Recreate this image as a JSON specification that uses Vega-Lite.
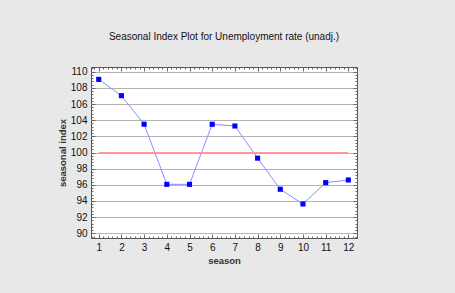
{
  "$schema": "https://vega.github.io/schema/vega-lite/v6.json",
  "width": 266,
  "height": 171,
  "autosize": {"type": "none"},
  "padding": {"left": 91, "top": 67, "right": 98, "bottom": 55},
  "background": "#e8e8e8",
  "title": {
    "text": "Seasonal Index Plot for Unemployment rate (unadj.)",
    "font": "Liberation Sans",
    "fontSize": 10,
    "fontWeight": "normal",
    "color": "#111111",
    "offset": 25,
    "anchor": "middle"
  },
  "config": {
    "view": {"fill": "white", "stroke": "#555555", "strokeWidth": 1},
    "axis": {
      "labelFont": "Liberation Sans",
      "labelFontSize": 10,
      "labelColor": "#111111",
      "titleFont": "Liberation Sans",
      "titleFontSize": 9.5,
      "titleFontWeight": "bold",
      "titleColor": "#333333",
      "domain": false,
      "grid": false,
      "tickColor": "#666666"
    }
  },
  "datasets": {
    "idx": [
      {"season": 1, "index": 109.05},
      {"season": 2, "index": 107.03},
      {"season": 3, "index": 103.5},
      {"season": 4, "index": 96.06},
      {"season": 5, "index": 96.06},
      {"season": 6, "index": 103.49},
      {"season": 7, "index": 103.28},
      {"season": 8, "index": 99.3},
      {"season": 9, "index": 95.45},
      {"season": 10, "index": 93.63},
      {"season": 11, "index": 96.27},
      {"season": 12, "index": 96.6}
    ],
    "ref": [{"s1": 1, "s2": 12, "level": 100}]
  },
  "resolve": {"axis": {"x": "independent", "y": "independent"}},
  "layer": [
    {
      "data": {"name": "idx"},
      "mark": {"type": "line", "color": "#8c8cff", "strokeWidth": 1},
      "encoding": {
        "x": {
          "field": "season", "type": "quantitative",
          "scale": {"domain": [0.66, 12.38], "nice": false, "zero": false},
          "axis": {
            "orient": "bottom", "title": "season", "values": [1,2,3,4,5,6,7,8,9,10,11,12],
            "ticks": false, "labelPadding": 4, "titlePadding": 3, "labelFlush": false
          }
        },
        "y": {
          "field": "index", "type": "quantitative",
          "scale": {"domain": [89.42, 110.58], "nice": false, "zero": false},
          "axis": {
            "orient": "left", "title": "seasonal index", "values": [90,92,94,96,98,100,102,104,106,108,110],
            "ticks": false, "labelPadding": 4, "titlePadding": 3,
            "grid": true, "gridColor": "#b4b4b4", "gridWidth": 1, "labelFlush": false
          }
        }
      }
    },
    {
      "data": {"name": "ref"},
      "mark": {"type": "rule", "color": "#ff9a9a", "strokeWidth": 1.2},
      "encoding": {
        "x": {"field": "s1", "type": "quantitative",
          "axis": {"orient": "top", "title": null, "labels": false,
            "values": [0.8,1,1.2,1.4,1.6,1.8,2,2.2,2.4,2.6,2.8,3,3.2,3.4,3.6,3.8,4,4.2,4.4,4.6,4.8,5,5.2,5.4,5.6,5.8,6,6.2,6.4,6.6,6.8,7,7.2,7.4,7.6,7.8,8,8.2,8.4,8.6,8.8,9,9.2,9.4,9.6,9.8,10,10.2,10.4,10.6,10.8,11,11.2,11.4,11.6,11.8,12,12.2],
            "tickSize": {"condition": {"test": "abs(datum.value - round(datum.value)) < 0.01", "value": -4}, "value": -2}
          }
        },
        "x2": {"field": "s2"},
        "y": {"field": "level", "type": "quantitative",
          "axis": {"orient": "right", "title": null, "labels": false,
            "values": [89.6,90,90.4,90.8,91.2,91.6,92,92.4,92.8,93.2,93.6,94,94.4,94.8,95.2,95.6,96,96.4,96.8,97.2,97.6,98,98.4,98.8,99.2,99.6,100,100.4,100.8,101.2,101.6,102,102.4,102.8,103.2,103.6,104,104.4,104.8,105.2,105.6,106,106.4,106.8,107.2,107.6,108,108.4,108.8,109.2,109.6,110,110.4],
            "tickSize": {"condition": {"test": "abs(datum.value/2 - round(datum.value/2)) < 0.01", "value": -4}, "value": -2}
          }
        }
      }
    },
    {
      "data": {"name": "idx"},
      "mark": {"type": "square", "color": "#0000ff", "opacity": 1, "size": 26},
      "encoding": {
        "x": {"field": "season", "type": "quantitative",
          "axis": {"orient": "bottom", "title": null, "labels": false,
            "values": [0.8,1,1.2,1.4,1.6,1.8,2,2.2,2.4,2.6,2.8,3,3.2,3.4,3.6,3.8,4,4.2,4.4,4.6,4.8,5,5.2,5.4,5.6,5.8,6,6.2,6.4,6.6,6.8,7,7.2,7.4,7.6,7.8,8,8.2,8.4,8.6,8.8,9,9.2,9.4,9.6,9.8,10,10.2,10.4,10.6,10.8,11,11.2,11.4,11.6,11.8,12,12.2],
            "tickSize": {"condition": {"test": "abs(datum.value - round(datum.value)) < 0.01", "value": -4}, "value": -2}
          }
        },
        "y": {"field": "index", "type": "quantitative",
          "axis": {"orient": "left", "title": null, "labels": false,
            "values": [89.6,90,90.4,90.8,91.2,91.6,92,92.4,92.8,93.2,93.6,94,94.4,94.8,95.2,95.6,96,96.4,96.8,97.2,97.6,98,98.4,98.8,99.2,99.6,100,100.4,100.8,101.2,101.6,102,102.4,102.8,103.2,103.6,104,104.4,104.8,105.2,105.6,106,106.4,106.8,107.2,107.6,108,108.4,108.8,109.2,109.6,110,110.4],
            "tickSize": {"condition": {"test": "abs(datum.value/2 - round(datum.value/2)) < 0.01", "value": -4}, "value": -2}
          }
        }
      }
    }
  ]
}
